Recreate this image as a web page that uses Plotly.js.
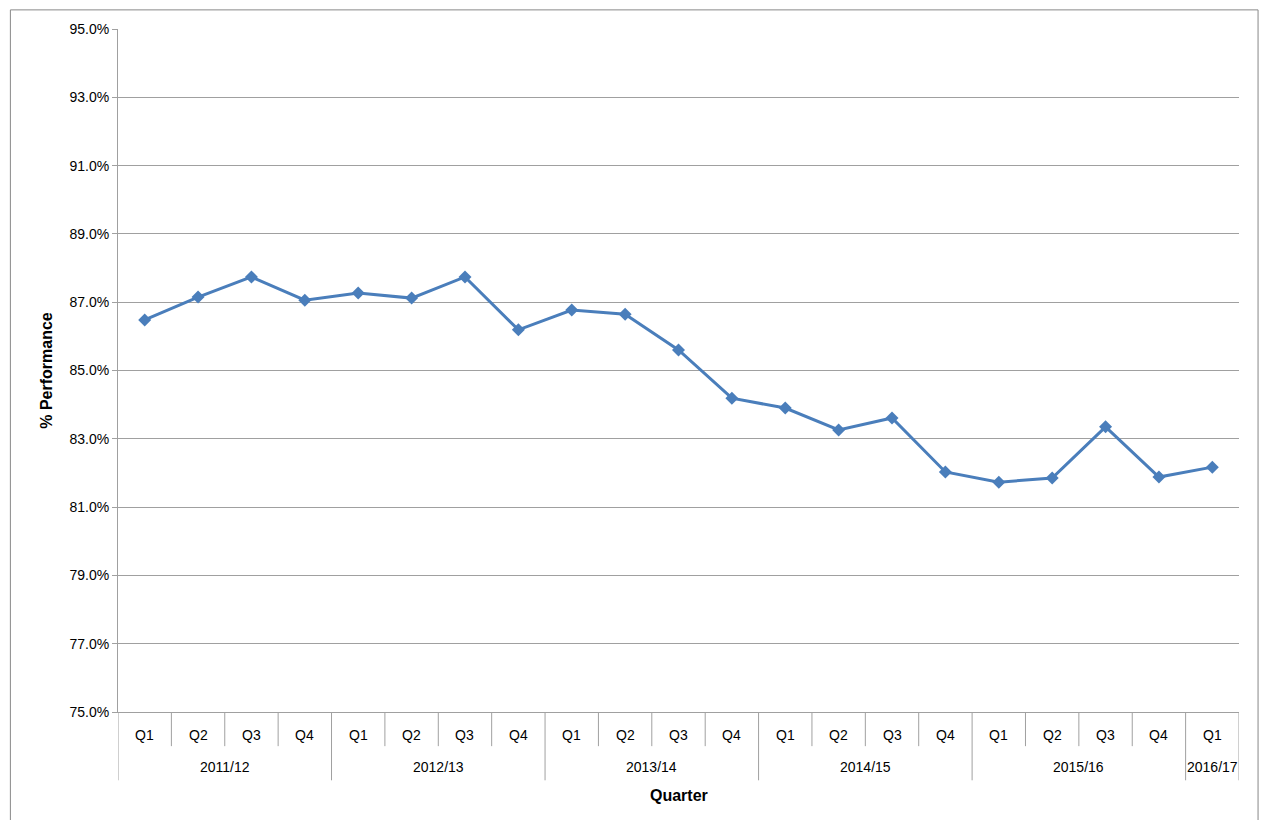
<!DOCTYPE html>
<html>
<head>
<meta charset="utf-8">
<script src="https://cdn.plot.ly/plotly-3.0.1.min.js"></script>
<style>body{margin:0;background:#fff}#chart{width:1262px;height:820px}</style>
</head>
<body>
<div id="chart"></div>
<script>
var quarters = ['Q1','Q2','Q3','Q4','Q1','Q2','Q3','Q4','Q1','Q2','Q3','Q4','Q1','Q2','Q3','Q4','Q1','Q2','Q3','Q4','Q1'];
var years = ['2011/12','2012/13','2013/14','2014/15','2015/16','2016/17'];
var yearSizes = [4, 4, 4, 4, 4, 1];
var performance = [86.48, 87.15, 87.74, 87.06, 87.27, 87.12, 87.74, 86.19, 86.77, 86.65, 85.6, 84.19,
                   83.9, 83.26, 83.61, 82.03, 81.73, 81.85, 83.35, 81.88, 82.17];

var idx = [];
for (var i = 0; i < quarters.length; i++) idx.push(i);

var font = {family: 'Liberation Sans, Arial', size: 14, color: '#000'};
var shapes = [];
var annotations = [];

// quarter labels and short dividers
for (i = 0; i < quarters.length; i++) {
    annotations.push({x: i, y: -0.034, xref: 'x', yref: 'paper', yanchor: 'middle', text: quarters[i],
        showarrow: false, font: font});
}
var bounds = [-0.5];
var start = 0;
for (i = 0; i < years.length; i++) {
    annotations.push({x: start + (yearSizes[i] - 1) / 2, y: -0.081, xref: 'x', yref: 'paper', yanchor: 'middle',
        text: years[i], showarrow: false, font: font});
    start += yearSizes[i];
    bounds.push(start - 0.5);
}
for (i = 0; i <= quarters.length; i++) {
    var b = i - 0.5;
    var isYear = bounds.indexOf(b) >= 0;
    shapes.push({type: 'line', xref: 'x', yref: 'paper', x0: b, x1: b, y0: 0,
        y1: isYear ? -0.1 : -0.05, line: {color: '#a0a0a0', width: 1}});
}
// outer frame
shapes.push({type: 'rect', xref: 'paper', yref: 'paper', x0: -0.096, x1: 1.017, y0: -0.17, y1: 1.028,
    line: {color: '#888', width: 1}, layer: 'below'});
annotations.push({x: 0.5, y: -0.122, xref: 'paper', yref: 'paper', yanchor: 'middle', text: '<b>Quarter</b>',
    showarrow: false, font: {family: 'Liberation Sans, Arial', size: 16, color: '#000'}});

var data = [{
    x: idx,
    y: performance,
    type: 'scatter',
    mode: 'lines+markers',
    line: {color: '#4a7ebb', width: 3},
    marker: {symbol: 'diamond', size: 10, color: '#4a7ebb'},
    hoverinfo: 'y'
}];

var layout = {
    width: 1262,
    height: 820,
    margin: {l: 118, r: 23, t: 29, b: 108},
    paper_bgcolor: '#fff',
    plot_bgcolor: '#fff',
    showlegend: false,
    font: font,
    xaxis: {
        range: [-0.5, quarters.length - 0.5],
        showticklabels: false,
        showgrid: false,
        zeroline: false,
        showline: true,
        linecolor: '#a0a0a0',
        ticks: ''
    },
    yaxis: {
        range: [75, 95],
        dtick: 2,
        tick0: 75,
        ticksuffix: '%',
        tickformat: '.1f',
        gridcolor: '#a0a0a0',
        showline: true,
        linecolor: '#a0a0a0',
        zeroline: false,
        ticks: 'outside',
        ticklen: 5,
        tickcolor: '#a0a0a0',
        title: {text: '<b>% Performance</b>', font: {family: 'Liberation Sans, Arial', size: 16, color: '#000'}, standoff: 12}
    },
    shapes: shapes,
    annotations: annotations
};

Plotly.newPlot('chart', data, layout, {displayModeBar: false});
</script>
</body>
</html>
